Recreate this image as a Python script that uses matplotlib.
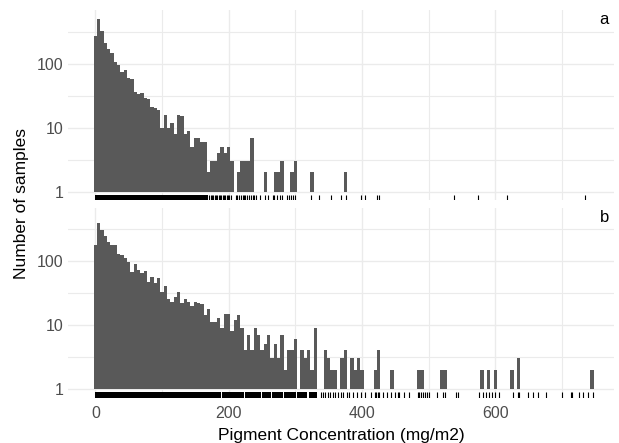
import numpy as np
import matplotlib
matplotlib.use("Agg")
import matplotlib.pyplot as plt
import matplotlib.transforms as mtransforms

plt.rcParams['font.family'] = ['Liberation Sans', 'DejaVu Sans']

# histogram: 5 mg/m2 bins centred on 0, 5, 10, ...
bin_width = 5

counts_a = [275, 500, 322, 210, 170, 146, 105, 96, 73, 79,
            60, 57, 36, 33, 35, 29, 28, 21, 20, 19,
            10, 16, 10, 12, 8, 16, 15, 8, 9, 5,
            7, 7, 6, 6, 2, 3, 3, 4, 5, 4,
            5, 3, 1, 2, 3, 3, 3, 7, 1, 1,
            0, 2, 1, 1, 2, 2, 3, 1, 1, 2,
            3, 0, 0, 0, 1, 2, 0, 1, 0, 0,
            1, 0, 0, 0, 1, 2]

counts_b = [177, 390, 303, 242, 197, 177, 175, 127, 125, 112,
            95, 67, 88, 73, 65, 70, 47, 55, 45, 53,
            32, 41, 25, 23, 27, 32, 22, 25, 23, 20,
            23, 22, 21, 14, 18, 11, 11, 13, 9, 15,
            15, 8, 12, 14, 9, 4, 7, 4, 9, 7,
            4, 5, 7, 3, 5, 3, 7, 2, 4, 4,
            6, 1, 4, 3, 4, 2, 9, 0, 1, 4,
            3, 2, 2, 1, 3, 4, 1, 3, 2, 3,
            2, 1, 1, 0, 2, 4, 1, 0, 1, 2,
            1, 1, 1, 0, 0, 0, 0, 2, 2, 0,
            1, 0, 0, 1, 2, 2, 0, 0, 1, 0,
            0, 0, 0, 0, 0, 1, 2, 0, 2, 0,
            2, 0, 1, 0, 0, 2, 0, 3, 0, 1,
            0, 1, 0, 1, 0, 0, 0, 1, 0, 1,
            0, 0, 1, 0, 0, 1, 0, 1, 0, 2]

# rug: ranges where samples are so dense the rug is solid, then single samples
rug_solid_a = [(0, 169)]
rug_a = [171, 173, 175, 177, 179, 181, 183, 185, 187, 189, 191, 193, 195,
         197, 199, 201, 203, 211, 213, 216, 218, 221, 223, 225, 228, 230,
         233, 236, 238, 241, 247, 254, 259, 266, 268, 273, 277, 280, 287,
         290, 293, 296, 299, 323, 335, 354, 368, 376, 399, 404, 422, 425,
         538, 574, 618, 735]

rug_solid_b = [(0, 189), (190.5, 223), (225, 248), (250, 263), (265, 281),
               (282.5, 301), (303, 318), (320, 333)]
rug_b = [339, 342, 345, 349, 352, 356, 360, 364, 368, 372, 377, 381, 386,
         392, 398, 404, 414, 419, 421, 424, 426, 431, 438, 444, 449, 454,
         456, 463, 470, 484, 486, 489, 491, 495, 498, 501, 513, 521, 524,
         541, 544, 576, 581, 586, 591, 595, 599, 606, 626, 634, 636, 649,
         656, 664, 676, 700, 713, 715, 726, 731, 739, 746]

panels = [("a", counts_a, rug_solid_a, rug_a),
          ("b", counts_b, rug_solid_b, rug_b)]

bar_col = "#595959"
grid_col = "#EBEBEB"
text_col = "#4D4D4D"

fig = plt.figure(figsize=(6.19, 4.43), dpi=100)
ax_a = fig.add_axes([0.1099, 0.5479, 0.882, 0.4284])
ax_b = fig.add_axes([0.1099, 0.1025, 0.882, 0.4289])

for ax, (tag, counts, solid, rug) in zip([ax_a, ax_b], panels):
    counts = np.array(counts, dtype=float)
    centres = np.arange(len(counts)) * bin_width
    keep = counts > 1
    ax.bar(centres[keep], counts[keep] - 1, bottom=1, width=bin_width,
           color=bar_col, linewidth=0, zorder=2)
    ax.set_yscale("log")
    ax.set_ylim(10 ** -0.135, 10 ** 2.83)
    ax.set_xlim(-41, 778)

    # grid like theme_minimal
    for v in [1, 10, 100]:
        ax.axhline(v, color=grid_col, lw=1.0, zorder=0)
    for v in [10 ** 0.5, 10 ** 1.5, 10 ** 2.5]:
        ax.axhline(v, color=grid_col, lw=0.8, zorder=0)
    for v in [0, 200, 400, 600]:
        ax.axvline(v, color=grid_col, lw=1.0, zorder=0)
    for v in [100, 300, 500, 700]:
        ax.axvline(v, color=grid_col, lw=0.8, zorder=0)

    # rug
    for x0, x1 in solid:
        ax.axvspan(x0, x1, ymin=0, ymax=0.03, color="black", lw=0, zorder=3)
    trans = mtransforms.blended_transform_factory(ax.transData, ax.transAxes)
    ax.vlines(rug, 0, 0.03, transform=trans, color="black", lw=0.8, zorder=3)

    ax.text(0.982, 0.95, tag, transform=ax.transAxes, ha="center",
            va="center", fontsize=12, color="black")

    for s in ax.spines.values():
        s.set_visible(False)
    ax.minorticks_off()
    ax.set_yticks([1, 10, 100])
    ax.set_yticklabels(["1", "10", "100"])
    ax.set_xticks([0, 200, 400, 600])
    ax.tick_params(length=0, labelsize=11.5, labelcolor=text_col, pad=3)

ax_a.set_xticklabels([])
ax_b.set_xticklabels(["0", "200", "400", "600"])
ax_b.tick_params(axis="x", pad=6)
ax_b.set_xlabel("Pigment Concentration (mg/m2)", fontsize=12.5, labelpad=5)
fig.text(0.035, 0.54, "Number of samples", rotation=90, ha="center",
         va="center", fontsize=12.5)

fig.savefig("out.png", dpi=100)
